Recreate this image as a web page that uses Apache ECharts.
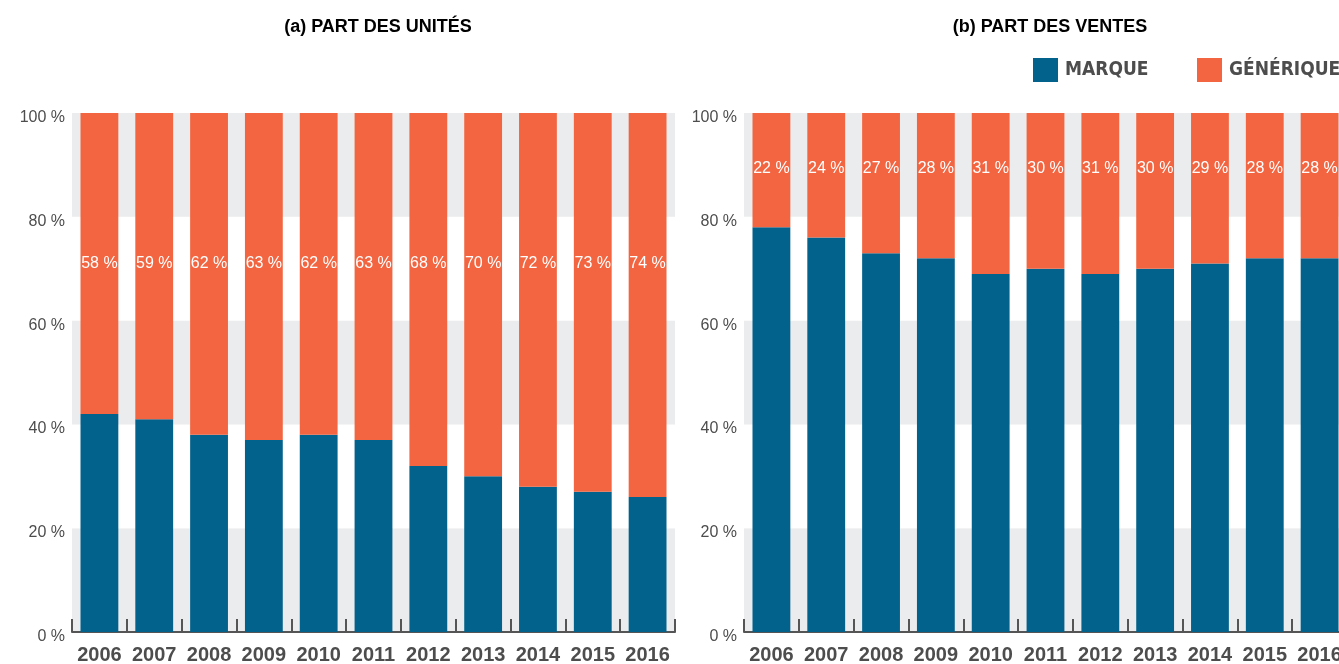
<!DOCTYPE html>
<html>
<head>
<meta charset="utf-8">
<script src="https://cdn.jsdelivr.net/npm/echarts@6/dist/echarts.min.js"></script>
<style>
  html, body { margin: 0; padding: 0; background: #fff; }
  #chart { width: 1339px; height: 664px; }
</style>
</head>
<body>
<div id="chart"></div>
<script>
var years = ['2006', '2007', '2008', '2009', '2010', '2011', '2012', '2013', '2014', '2015', '2016'];
// part des unités (%)
var unitesMarque = [42, 41, 38, 37, 38, 37, 32, 30, 28, 27, 26];
var unitesGenerique = [58, 59, 62, 63, 62, 63, 68, 70, 72, 73, 74];
// part des ventes (%)
var ventesMarque = [78, 76, 73, 72, 69, 70, 69, 70, 71, 72, 72];
var ventesGenerique = [22, 24, 27, 28, 31, 30, 31, 30, 29, 28, 28];
var yTicks = [0, 20, 40, 60, 80, 100];

var bleu = '#03628c';
var orange = '#f26540';
var gris = '#4d4d4d';
var police = '"Liberation Sans", Arial, sans-serif';
var policeEtroite = '"Liberation Sans Narrow", "DejaVu Sans Condensed", "Liberation Sans", sans-serif';

var chart = echarts.init(document.getElementById('chart'));

function xAxe(idx) {
  return {
    type: 'category',
    gridIndex: idx,
    data: years,
    boundaryGap: true,
    axisLine: { lineStyle: { color: '#555', width: 2 } },
    axisTick: { show: true, inside: true, length: 13, interval: 0, lineStyle: { color: '#555', width: 2 } },
    axisLabel: { interval: 0, margin: 13, color: gris, fontSize: 20, fontWeight: 'bold', fontFamily: police }
  };
}
function yAxe(idx) {
  return {
    type: 'value',
    gridIndex: idx,
    min: yTicks[0],
    max: yTicks[yTicks.length - 1],
    interval: 20,
    axisLine: { show: false },
    axisTick: { show: false },
    splitLine: { show: false },
    splitArea: { show: true, areaStyle: { color: ['#ebeced', '#ffffff'] } },
    // on descend un peu les libellés comme sur l'original
    axisLabel: { margin: 7, color: gris, fontSize: 16, fontFamily: police, verticalAlign: 'top', lineHeight: 9,
      formatter: function (v) { return v + ' %'; } }
  };
}
function etiquette(dy) {
  return {
    show: true,
    position: ['50%', dy],
    align: 'center',
    verticalAlign: 'middle',
    color: '#fff',
    fontSize: 16,
    fontFamily: police,
    formatter: '{c} %'
  };
}

chart.setOption({
  animation: false,
  title: [
    { text: '(a) PART DES UNITÉS', left: 373, top: 13, textAlign: 'center',
      textStyle: { color: '#000', fontSize: 18, fontWeight: 'bold', fontFamily: police } },
    { text: '(b) PART DES VENTES', left: 1045, top: 13, textAlign: 'center',
      textStyle: { color: '#000', fontSize: 18, fontWeight: 'bold', fontFamily: police } }
  ],
  legend: [
    { data: ['MARQUE'], left: 1028, top: 53, icon: 'rect', itemWidth: 25, itemHeight: 24, selectedMode: false,
      textStyle: { color: gris, fontSize: 19, fontWeight: 'bold', fontFamily: policeEtroite, padding: [0, 0, 0, 2] } },
    { data: ['GÉNÉRIQUE'], left: 1192, top: 53, icon: 'rect', itemWidth: 25, itemHeight: 24, selectedMode: false,
      textStyle: { color: gris, fontSize: 19, fontWeight: 'bold', fontFamily: policeEtroite, padding: [0, 0, 0, 2] } }
  ],
  grid: [
    { left: 72, top: 113, width: 603, bottom: 32, outerBoundsMode: 'none' },
    { left: 744, top: 113, width: 603, bottom: 32, outerBoundsMode: 'none' }
  ],
  xAxis: [xAxe(0), xAxe(1)],
  yAxis: [yAxe(0), yAxe(1)],
  series: [
    { name: 'MARQUE', type: 'bar', stack: 'a', xAxisIndex: 0, yAxisIndex: 0, barWidth: '69%',
      itemStyle: { color: bleu }, data: unitesMarque },
    { name: 'GÉNÉRIQUE', type: 'bar', stack: 'a', xAxisIndex: 0, yAxisIndex: 0, barWidth: '69%',
      itemStyle: { color: orange }, label: etiquette(151), data: unitesGenerique },
    { name: 'MARQUE', type: 'bar', stack: 'b', xAxisIndex: 1, yAxisIndex: 1, barWidth: '69%',
      itemStyle: { color: bleu }, data: ventesMarque },
    { name: 'GÉNÉRIQUE', type: 'bar', stack: 'b', xAxisIndex: 1, yAxisIndex: 1, barWidth: '69%',
      itemStyle: { color: orange }, label: etiquette(56), data: ventesGenerique }
  ]
});
</script>
</body>
</html>
